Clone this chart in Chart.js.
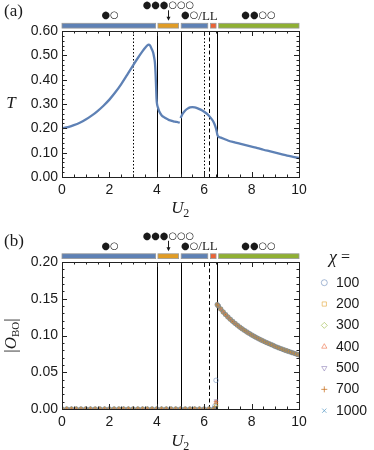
<!DOCTYPE html>
<html><head><meta charset="utf-8">
<script src="https://cdn.jsdelivr.net/npm/chart.js@4.4.1/dist/chart.umd.min.js"></script>
<style>
html,body{margin:0;padding:0;background:#fff;}
#wrap{position:relative;width:374px;height:450px;overflow:hidden;}
canvas{position:absolute;left:0;}
</style></head><body>
<div id="wrap">
<canvas id="ca" width="374" height="225" style="top:0"></canvas>
<canvas id="cb" width="374" height="225" style="top:225px"></canvas>
</div>
<script>
// ---------------- DATA ----------------
// panel (a): T vs U2 (null = discontinuity)
const U_a = [0,0.25,0.5,0.75,1,1.25,1.5,1.75,2,2.25,2.5,2.75,3,3.2,3.4,3.5,3.6,3.65,3.72,3.78,3.85,3.89,3.92,3.95,3.97,3.99,4.01,
  4.05,4.1,4.2,4.3,4.4,4.5,4.6,4.7,4.8,4.9,4.97,4.985,
  5.0,5.05,5.1,5.2,5.3,5.4,5.5,5.6,5.7,5.8,5.9,6.0,6.1,6.2,6.3,6.4,6.47,6.52,6.56,6.6,6.7,6.85,7.0,7.25,7.5,7.75,8.0,8.25,8.5,8.75,9.0,9.25,9.5,9.75,10];
const T_a = [0.200,0.205,0.213,0.223,0.236,0.252,0.271,0.293,0.318,0.348,0.382,0.420,0.459,0.489,0.517,0.530,0.541,0.544,0.540,0.527,0.510,0.490,0.470,0.420,0.370,0.320,0.300,
  0.285,0.270,0.254,0.246,0.240,0.235,0.232,0.229,0.227,0.225,0.223,null,
  0.242,0.252,0.261,0.273,0.281,0.286,0.287,0.286,0.283,0.279,0.274,0.268,0.261,0.252,0.240,0.225,0.208,0.190,0.172,0.166,0.162,0.156,0.150,0.143,0.137,0.131,0.125,0.119,0.112,0.106,0.100,0.094,0.088,0.083,0.078];

// panel (b): |O_BO| vs U2 for several bond dimensions chi
const chiLabels = ['100','200','300','400','500','700','1000'];
const U_low = [0,0.2,0.4,0.6,0.8,1.0,1.2,1.4,1.6,1.8,2.0,2.2,2.4,2.6,2.8,3.0,3.2,3.4,3.6,3.8,4.0,4.2,4.4,4.6,4.8,5.0,5.2,5.4,5.6,5.8,6.0,6.2,6.4];
const O_low = [0,0,0,0,0,0,0,0,0,0,0,0,0,0,0,0,0,0,0,0,0,0,0,0,0,0,0,0,0,0,0,0,0];
const U_trans = [6.45,6.5];
const O_trans = [[0.004,0.039],[0.001,0.006],[0.000,0.004],[0.001,0.009],[0.002,0.011],[0.000,0.010],[0.000,0.003]];
const U_high = [6.55,6.6,6.7,6.8,6.9,7.0,7.1,7.2,7.3,7.4,7.5,7.6,7.7,7.8,7.9,8.0,8.1,8.2,8.3,8.4,8.5,8.6,8.7,8.8,8.9,9.0,9.1,9.2,9.3,9.4,9.5,9.6,9.7,9.8,9.9,10.0];
const O_high = [0.142,0.140,0.136,0.132,0.1285,0.1252,0.1221,0.1192,0.1165,0.1139,0.1114,0.1091,0.1069,0.1048,0.1028,0.1008,0.0990,0.0972,0.0955,0.0939,0.0923,0.0908,0.0894,0.0880,0.0867,0.0850,0.0838,0.0825,0.0813,0.0801,0.0790,0.0779,0.0768,0.0757,0.0746,0.0736];

// phase boundaries and phase bars
const boundSolid = [4.0, 5.0, 6.55];
const boundDottedA = [3.0, 6.0];
const boundDashed = [6.2];
const phaseStart = [0, 4.05, 5.03, 6.27, 6.61];
const phaseEnd   = [3.95, 4.92, 6.15, 6.5, 10];
const phaseColor = ['#5e81b5','#e19c24','#5e81b5','#eb6235','#8fb032'];

// ---------------- STYLE ----------------
const SANS = '"Liberation Sans", Arial, sans-serif';
const SERIF = '"Liberation Serif", "Times New Roman", serif';
const INK = '#1a1a1a';
const chiColor = ['rgba(94,129,181,0.55)','rgba(225,156,36,0.55)','rgba(143,176,50,0.55)','rgba(235,98,53,0.55)','rgba(135,120,179,0.55)','rgba(197,110,26,0.75)','rgba(93,158,199,0.75)'];
const chiStyle = ['circle','rect','rectRot','triangle','triangle','cross','crossRot'];
const chiRot = [0,0,0,0,180,0,0];

function drawCircleText(ctx, str, cx, cy, tail) {
  ctx.font = '100px "DejaVu Sans"';
  const w100 = ctx.measureText('●').width;
  const size = 8.6 / w100 * 100;
  const cfont = size.toFixed(2) + 'px "DejaVu Sans"';
  const tfont = '13px ' + SERIF;
  ctx.font = cfont;
  const w1 = ctx.measureText(str).width;
  let w2 = 0;
  if (tail) { ctx.font = tfont; w2 = ctx.measureText(tail).width; }
  const x0 = cx - (w1 + w2) / 2;
  ctx.fillStyle = INK;
  ctx.textBaseline = 'middle';
  ctx.textAlign = 'left';
  ctx.font = cfont;
  ctx.fillText(str, x0, cy);
  if (tail) { ctx.font = tfont; ctx.fillText(tail, x0 + w1, cy + 0.5); }
}

function makePlugin(cfg) {
  return {
    id: 'deco' + cfg.panel,
    beforeDatasetsDraw(chart) {
      const {ctx, chartArea: a, scales: {x}} = chart;
      ctx.save();
      ctx.strokeStyle = '#000';
      ctx.lineWidth = 1;
      const lines = [];
      boundSolid.forEach(u => lines.push([u, []]));
      cfg.dotted.forEach(u => lines.push([u, [1.5, 2]]));
      boundDashed.forEach(u => lines.push([u, [4, 2.5]]));
      lines.forEach(([u, d]) => {
        const px = Math.round(x.getPixelForValue(u)) + 0.5;
        ctx.setLineDash(d);
        ctx.beginPath(); ctx.moveTo(px, a.top); ctx.lineTo(px, a.bottom); ctx.stroke();
      });
      ctx.restore();
    },
    afterDraw(chart) {
      const {ctx, chartArea: a, scales: {x, y}} = chart;
      ctx.save();
      // frame
      ctx.strokeStyle = '#222'; ctx.lineWidth = 1; ctx.setLineDash([]);
      ctx.strokeRect(Math.round(a.left) + 0.5, Math.round(a.top) + 0.5, Math.round(a.right - a.left), Math.round(a.bottom - a.top));
      // ticks
      ctx.beginPath();
      for (let k = 0; k <= 20; k++) {
        const u = k * 0.5;
        const px = Math.round(x.getPixelForValue(u)) + 0.5;
        const len = (k % 4 === 0) ? 5 : 2.5;
        ctx.moveTo(px, a.bottom); ctx.lineTo(px, a.bottom - len);
        ctx.moveTo(px, a.top); ctx.lineTo(px, a.top + len);
      }
      const nMin = Math.round(cfg.yMax / cfg.yMinor);
      const per = Math.round(cfg.yMajor / cfg.yMinor);
      for (let k = 0; k <= nMin; k++) {
        const py = Math.round(y.getPixelForValue(k * cfg.yMinor)) + 0.5;
        const len = (k % per === 0) ? 5 : 2.5;
        ctx.moveTo(a.left, py); ctx.lineTo(a.left + len, py);
        ctx.moveTo(a.right, py); ctx.lineTo(a.right - len, py);
      }
      ctx.stroke();
      // phase bar
      const bt = cfg.barTop, bh = 4.8;
      phaseStart.forEach((s, i) => {
        const x0 = x.getPixelForValue(s), x1 = x.getPixelForValue(phaseEnd[i]);
        ctx.fillStyle = phaseColor[i];
        ctx.fillRect(x0, bt, x1 - x0, bh);
        ctx.strokeStyle = '#9a9a9a'; ctx.lineWidth = 0.8;
        ctx.strokeRect(x0, bt, x1 - x0, bh);
      });
      // phase labels
      drawCircleText(ctx, '●○', x.getPixelForValue(2.03), bt - 7.5);
      drawCircleText(ctx, '●●●○○○', x.getPixelForValue(4.49), bt - 17.5);
      drawCircleText(ctx, '●○', x.getPixelForValue(5.8), bt - 7.5, '/LL');
      drawCircleText(ctx, '●●○○', x.getPixelForValue(8.29), bt - 7.5);
      // arrow
      const ax = Math.round(x.getPixelForValue(4.49)) + 0.5;
      ctx.strokeStyle = INK; ctx.lineWidth = 1;
      ctx.beginPath(); ctx.moveTo(ax, bt - 13); ctx.lineTo(ax, bt - 5); ctx.stroke();
      ctx.fillStyle = INK;
      ctx.beginPath(); ctx.moveTo(ax - 2, bt - 6.5); ctx.lineTo(ax + 2, bt - 6.5); ctx.lineTo(ax, bt - 2.5); ctx.closePath(); ctx.fill();
      // panel label
      ctx.font = '17px ' + SERIF; ctx.textAlign = 'left'; ctx.textBaseline = 'middle';
      ctx.fillText('(' + cfg.panel + ')', 4, cfg.labelY);
      // x title U_2
      const cx = (a.left + a.right) / 2;
      ctx.font = 'italic 17px ' + SERIF;
      const wU = ctx.measureText('U').width;
      ctx.font = '12px ' + SERIF;
      const w2 = ctx.measureText('2').width;
      const tx = cx - (wU + w2) / 2;
      ctx.textBaseline = 'alphabetic';
      ctx.font = 'italic 17px ' + SERIF;
      ctx.fillText('U', tx, cfg.xTitleY);
      ctx.font = '12px ' + SERIF;
      ctx.fillText('2', tx + wU - 0.5, cfg.xTitleY + 3.5);
      // y title
      const cy = (a.top + a.bottom) / 2;
      if (cfg.panel === 'a') {
        ctx.font = 'italic 17px ' + SERIF; ctx.textAlign = 'center'; ctx.textBaseline = 'middle';
        ctx.fillText('T', 11, cy);
      } else {
        ctx.translate(12, cy);
        ctx.rotate(-Math.PI / 2);
        const parts = [['|', '17px ' + SERIF, 0], ['O', 'italic 17px ' + SERIF, 0], ['BO', '11px ' + SERIF, 4], ['|', '17px ' + SERIF, 0]];
        let tw = 0;
        parts.forEach(p => { ctx.font = p[1]; tw += ctx.measureText(p[0]).width; });
        let px = -tw / 2;
        ctx.textAlign = 'left'; ctx.textBaseline = 'middle';
        parts.forEach(p => { ctx.font = p[1]; ctx.fillText(p[0], px, p[2]); px += ctx.measureText(p[0]).width; });
        ctx.setTransform(1, 0, 0, 1, 0, 0);
        // legend
        ctx.textAlign = 'left'; ctx.textBaseline = 'middle';
        ctx.font = 'italic 18px ' + SERIF;
        ctx.fillText('χ', 329, 33);
        const wc = ctx.measureText('χ').width;
        ctx.font = '16px ' + SERIF;
        ctx.fillText(' =', 329 + wc, 33);
        chiLabels.forEach((lab, i) => {
          const ly = 57.7 + 21.33 * i;
          ctx.strokeStyle = chiColor[i]; ctx.fillStyle = 'rgba(0,0,0,0)'; ctx.lineWidth = 1;
          Chart.helpers.drawPoint(ctx, {pointStyle: chiStyle[i], rotation: chiRot[i], radius: 3, borderWidth: 1}, 324.3, ly);
          ctx.fillStyle = INK; ctx.font = '14px ' + SANS;
          ctx.fillText(lab, 336, ly);
        });
      }
      ctx.restore();
    }
  };
}

function axisOpts(min, max, step, isY, fit) {
  return {
    type: 'linear', min, max,
    grid: {display: false, drawTicks: false},
    border: {display: false},
    ticks: {
      stepSize: step, autoSkip: false, maxRotation: 0, color: INK,
      font: {family: SANS, size: 14}, padding: isY ? 4 : 5,
      callback: isY ? (v => Number(v).toFixed(2)) : (v => String(v))
    },
    afterFit(s) { if (isY) s.width = fit; else s.height = fit; }
  };
}

// ---------------- CHART A ----------------
new Chart(document.getElementById('ca'), {
  type: 'line',
  data: {datasets: [{
    data: U_a.map((u, i) => ({x: u, y: T_a[i]})),
    borderColor: '#5e81b5', borderWidth: 2.3, pointRadius: 0,
    cubicInterpolationMode: 'monotone', spanGaps: false, fill: false
  }]},
  options: {
    responsive: false, animation: false, devicePixelRatio: 1,
    layout: {padding: {top: 31, right: 75, left: 0, bottom: 0}},
    plugins: {legend: {display: false}, tooltip: {enabled: false}},
    scales: {x: axisOpts(0, 10, 2, false, 48), y: axisOpts(0, 0.6, 0.1, true, 62)}
  },
  plugins: [makePlugin({panel: 'a', dotted: boundDottedA, yMax: 0.6, yMajor: 0.1, yMinor: 0.02, barTop: 23.3, labelY: 12, xTitleY: 213})]
});

// ---------------- CHART B ----------------
const dsB = chiLabels.map((lab, i) => {
  const pts = [];
  U_low.forEach((u, j) => pts.push({x: u, y: O_low[j]}));
  U_trans.forEach((u, j) => pts.push({x: u, y: O_trans[i][j]}));
  U_high.forEach((u, j) => pts.push({x: u, y: O_high[j]}));
  return {
    label: lab, data: pts,
    pointStyle: chiStyle[i], rotation: chiRot[i], pointRadius: 2.3, borderWidth: 0.9,
    borderColor: chiColor[i], backgroundColor: 'rgba(0,0,0,0)', showLine: false
  };
});
new Chart(document.getElementById('cb'), {
  type: 'scatter',
  data: {datasets: dsB},
  options: {
    responsive: false, animation: false, devicePixelRatio: 1,
    layout: {padding: {top: 37, right: 75, left: 0, bottom: 0}},
    plugins: {legend: {display: false}, tooltip: {enabled: false}},
    scales: {x: axisOpts(0, 10, 2, false, 41), y: axisOpts(0, 0.2, 0.05, true, 62)}
  },
  plugins: [makePlugin({panel: 'b', dotted: [], yMax: 0.2, yMajor: 0.05, yMinor: 0.01, barTop: 28.8, labelY: 17, xTitleY: 221})]
});
</script>
</body></html>
